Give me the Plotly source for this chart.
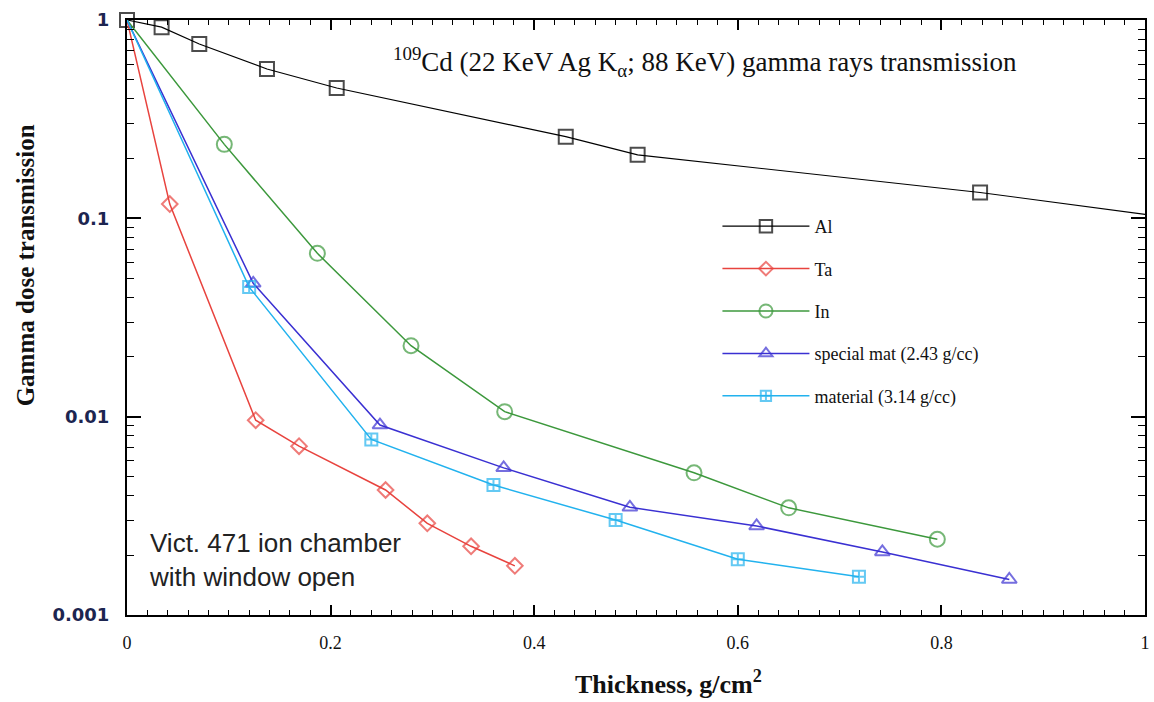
import plotly.graph_objects as go

# ---- data ----
al_x = [0, 0.034, 0.071, 0.1375, 0.206, 0.431, 0.5016, 0.838, 1.05]
al_y = [1, 0.92, 0.757, 0.566, 0.454, 0.258, 0.209, 0.135, 0.0968]

ta_x = [0, 0.042, 0.1264, 0.169, 0.254, 0.295, 0.338, 0.381]
ta_y = [1, 0.118, 0.0096, 0.0071, 0.00427, 0.0029, 0.00222, 0.00177]

in_x = [0, 0.0956, 0.187, 0.279, 0.371, 0.557, 0.650, 0.796]
in_y = [1, 0.236, 0.0666, 0.0228, 0.0106, 0.00521, 0.00347, 0.00241]

sp_x = [0, 0.124, 0.2485, 0.370, 0.494, 0.6185, 0.742, 0.8667]
sp_y = [1, 0.047, 0.00907, 0.00552, 0.00349, 0.00281, 0.00208, 0.00151]

mat_x = [0, 0.120, 0.240, 0.360, 0.480, 0.600, 0.719]
mat_y = [1, 0.045, 0.00768, 0.00452, 0.00301, 0.00191, 0.00156]

x_ticks = [0, 0.2, 0.4, 0.6, 0.8, 1]
x_tick_labels = ["0", "0.2", "0.4", "0.6", "0.8", "1"]
y_ticks = [0.001, 0.01, 0.1, 1]
y_tick_labels = ["0.001", "0.01", "0.1", "1"]

series = [
    ("Al", al_x, al_y, "#000000", "square-open", 14, 1.2),
    ("Ta", ta_x, ta_y, "#e8433e", "diamond-open", 12, 1.5),
    ("In", in_x, in_y, "#3c983c", "circle-open", 15, 1.5),
    ("special mat (2.43 g/cc)", sp_x, sp_y, "#3a30d2", "triangle-up-open", 13, 1.5),
    ("material (3.14 g/cc)", mat_x, mat_y, "#22b2ee", "square-cross-open", 12, 1.5),
]

fig = go.Figure()
for i, (name, xs, ys, col, sym, size, lw) in enumerate(series):
    sizes = [size] * len(xs)
    if name == "Al":
        sizes[-1] = 0  # point beyond the axis: only its line segment shows
    else:
        sizes[0] = 0   # shared origin point is drawn by the Al square
    fig.add_trace(go.Scatter(
        x=xs, y=ys, name=name, mode="lines+markers",
        line=dict(color=col, width=lw),
        marker=dict(symbol=sym, size=sizes, color=col,
                    line=dict(color=col, width=2)),
        cliponaxis=False, legendgroup=f"g{i}",
    ))

minor_y = [k * 10 ** e for e in (-3, -2, -1) for k in range(2, 10)]

fig.update_layout(
    width=1154, height=702,
    margin=dict(l=127, r=9, t=20, b=87, autoexpand=False),
    paper_bgcolor="white", plot_bgcolor="white",
    showlegend=True,
    legend=dict(
        x=0.58, y=0.684, xanchor="left", yanchor="top",
        bgcolor="rgba(0,0,0,0)", borderwidth=0,
        font=dict(family="Liberation Serif", size=18, color="#111"),
        traceorder="grouped", tracegroupgap=16,
        itemwidth=87,
    ),
    xaxis=dict(
        range=[0, 1], tickvals=x_ticks, ticktext=x_tick_labels,
        ticks="inside", ticklen=10, tickwidth=1.5, tickcolor="black",
        showline=True, linecolor="black", linewidth=2, mirror="ticks",
        showgrid=False, zeroline=False, automargin=False,
        minor=dict(dtick=0.02, ticks="inside", ticklen=5, tickwidth=1, tickcolor="black"),
        tickfont=dict(family="Liberation Serif", size=18, color="#111"),
        ticklabelstandoff=10,
    ),
    yaxis=dict(
        type="log", range=[-3, 0], tickvals=y_ticks, ticktext=y_tick_labels,
        ticks="inside", ticklen=14, tickwidth=1.5, tickcolor="black",
        showline=True, linecolor="black", linewidth=2, mirror="ticks",
        showgrid=False, zeroline=False, automargin=False,
        minor=dict(tickvals=minor_y, ticks="inside", ticklen=7, tickwidth=1, tickcolor="black"),
        tickfont=dict(family="DejaVu Sans", size=18, color="#1c2550", weight="bold"),
        ticklabelstandoff=12,
    ),
    annotations=[
        dict(text="<sup>109</sup>Cd (22 KeV Ag K<sub>α</sub>; 88 KeV) gamma rays transmission",
             x=0.568, y=0.93, xref="paper", yref="paper",
             xanchor="center", yanchor="middle", showarrow=False,
             font=dict(family="Liberation Serif", size=27, color="#111")),
        dict(text="Vict. 471 ion chamber<br>with window open",
             x=0.02, y=0.092, xref="paper", yref="paper",
             xanchor="left", yanchor="middle", align="left", showarrow=False,
             font=dict(family="Liberation Sans", size=26, color="#222")),
        dict(text="<b>Gamma dose transmission</b>", textangle=-90,
             x=-0.1, y=0.588, xref="paper", yref="paper",
             xanchor="center", yanchor="middle", showarrow=False,
             font=dict(family="Liberation Serif", size=25, color="#111")),
        dict(text="<b>Thickness, g/cm<sup>2</sup></b>",
             x=0.532, y=-0.114, xref="paper", yref="paper",
             xanchor="center", yanchor="middle", showarrow=False,
             font=dict(family="Liberation Serif", size=26, color="#111")),
    ],
)

fig.write_html("out.html", config={"displayModeBar": False},
               post_script="document.body.style.margin='0';")
